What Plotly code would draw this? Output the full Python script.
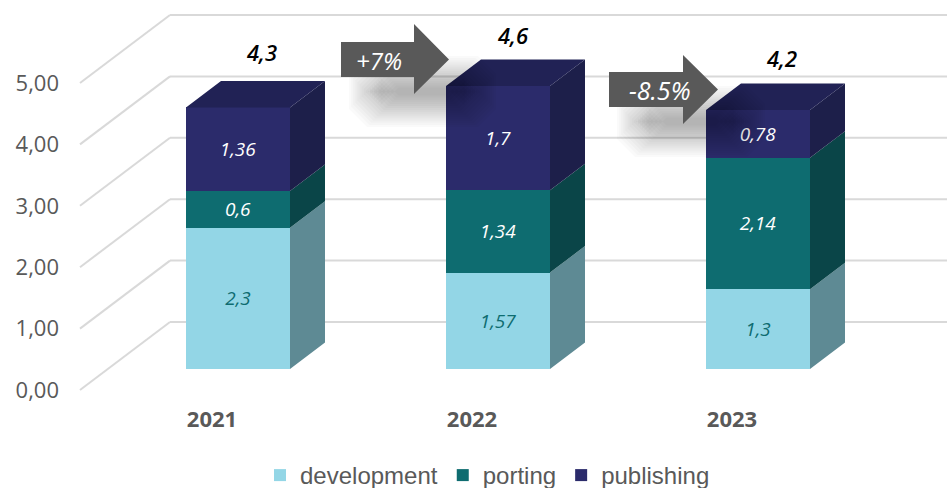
import plotly.graph_objects as go

years = [2021, 2022, 2023]
development = [2.3, 1.57, 1.3]
porting = [0.6, 1.34, 2.14]
publishing = [1.36, 1.7, 0.78]
total_labels = ["4,3", "4,6", "4,2"]
y_ticks = [0, 1, 2, 3, 4, 5]

series = [
    ("development", development, "#93D6E6", "#5E8A94", "#0E6C70"),
    ("porting", porting, "#0E6C70", "#0A4548", "#FFFFFF"),
    ("publishing", publishing, "#2B2B6B", "#1D1F4A", "#FFFFFF"),
]

# layout geometry (pixels of the 947x488 page)
W, H = 947, 488
M_L, M_B = 64, 88
PX_X = 260.0      # pixels per year
PX_Y = 61.4       # pixels per unit
X0_PX, Y0_PX = 238.0, 369.0   # pixel of year 2021 / value 0


def xd(px):
    return years[0] + (px - X0_PX) / PX_X


def yd(py):
    return (Y0_PX - py) / PX_Y


BAR_W = 104 / PX_X
DX, DY = 35 / PX_X, 26.5 / PX_Y

fig = go.Figure()

# stacked front faces
base = [0.0] * len(years)
bases = []
for name, vals, col, side, tcol in series:
    bases.append(list(base))
    fig.add_trace(go.Bar(
        x=years, y=vals, name=name, width=BAR_W, marker=dict(color=col, line=dict(width=0)),
        texttemplate="%{y:.2~f}", textposition="inside", insidetextanchor="middle",
        textangle=0, constraintext="none",
        textfont=dict(family="Open Sans", size=19, color=tcol, style="italic"),
        hoverinfo="x+y+name",
    ))
    base = [b + v for b, v in zip(base, vals)]
totals = base

# side faces
for (name, vals, col, side, tcol), b0 in zip(series, bases):
    xs, ys = [], []
    for yr, v, b in zip(years, vals, b0):
        xr = yr + BAR_W / 2
        xs += [xr, xr + DX, xr + DX, xr, xr, None]
        ys += [b, b + DY, b + v + DY, b + v, b, None]
    fig.add_trace(go.Scatter(x=xs, y=ys, mode="lines", fill="toself", fillcolor=side,
                             line=dict(width=0, color=side), showlegend=False, hoverinfo="skip"))

# top faces
xs, ys = [], []
for yr, t in zip(years, totals):
    xl, xr = yr - BAR_W / 2, yr + BAR_W / 2
    xs += [xl, xl + DX, xr + DX, xr, xl, None]
    ys += [t, t + DY, t + DY, t, t, None]
fig.add_trace(go.Scatter(x=xs, y=ys, mode="lines", fill="toself", fillcolor="#212255",
                         line=dict(width=0, color="#212255"), showlegend=False, hoverinfo="skip"))

# 3D floor/wall gridlines
shapes = []
back_dy = 47 / PX_Y
front_dy = -21 / PX_Y
grid = dict(color="#D9D9D9", width=2)
for v in y_ticks:
    shapes.append(dict(type="line", layer="below", xref="x", yref="y",
                       x0=xd(80), y0=v + front_dy, x1=xd(170), y1=v + back_dy, line=grid))
    shapes.append(dict(type="line", layer="below", xref="x", yref="y",
                       x0=xd(170), y0=v + back_dy, x1=xd(W), y1=v + back_dy, line=grid))


def arrow_pts(left, base_x, tip, body_top, body_bot, head_top, head_bot):
    mid = (body_top + body_bot) / 2
    return [(left, body_top), (base_x, body_top), (base_x, head_top), (tip, mid),
            (base_x, head_bot), (base_x, body_bot), (left, body_bot)]


def path(pts):
    return "M " + " L ".join(f"{xd(x):.5f},{yd(y):.5f}" for x, y in pts) + " Z"


def octagon(x0, y0, x1, y1, cut):
    return [(x0 + cut, y0), (x1 - cut, y0), (x1, y0 + cut), (x1, y1 - cut),
            (x1 - cut, y1), (x0 + cut, y1), (x0, y1 - cut), (x0, y0 + cut)]


arrows = [
    arrow_pts(341, 414, 449, 42, 77, 24, 94),
    arrow_pts(609, 683, 718, 72, 107, 55, 124),
]
arrow_text = [("+7%", 379, 60, 24), ("-8.5%", 660, 90, 25)]

# soft drop shadow: stacked translucent shapes, darkest at the centre
for pts in arrows:
    left, tip = pts[0][0], pts[3][0]
    top, bot = pts[0][1], pts[-1][1]
    for i in range(16):
        inset = i * 2.1
        sh = octagon(left + 8 + inset, top + 14 + inset, tip + 47 - inset, bot + 50 - inset, 18)
        shapes.append(dict(type="path", layer="above", xref="x", yref="y", path=path(sh),
                           fillcolor="rgba(0,0,0,0.019)", line=dict(width=0)))
for pts in arrows:
    shapes.append(dict(type="path", layer="above", xref="x", yref="y", path=path(pts),
                       fillcolor="#595959", line=dict(width=0)))

label_dx = [23, 15, 23]
label_dy = [29, 24, 25]
annotations = []
for yr, t, lab, ldx, ldy in zip(years, totals, total_labels, label_dx, label_dy):
    annotations.append(dict(x=yr + ldx / PX_X, y=t + DY, text=lab, xref="x", yref="y", showarrow=False,
                            yanchor="middle", yshift=ldy,
                            font=dict(family="Open Sans", size=22, color="#000000", style="italic", weight=600)))
for txt, px, py, size in arrow_text:
    annotations.append(dict(x=xd(px), y=yd(py), text=txt, xref="x", yref="y", showarrow=False,
                            font=dict(family="Open Sans", size=size, color="#FFFFFF", style="italic")))

fig.update_layout(
    width=W, height=H,
    margin=dict(l=M_L, r=0, t=0, b=M_B, pad=0),
    paper_bgcolor="#FFFFFF", plot_bgcolor="#FFFFFF",
    barmode="stack", separators=", ",
    shapes=shapes, annotations=annotations,
    xaxis=dict(range=[xd(M_L), xd(W)], tickvals=years, ticktext=[str(y) for y in years],
               showgrid=False, zeroline=False, showline=False, ticks="", automargin=False,
               ticklabelshift=-26, ticklabelstandoff=4,
               tickfont=dict(family="Open Sans", size=22, color="#595959", weight="bold")),
    yaxis=dict(range=[yd(H - M_B), yd(0)], tickvals=y_ticks, tickformat=".2f", showgrid=False, zeroline=False,
               showline=False, ticks="", ticklabelshift=21, ticklabelstandoff=4, automargin=False,
               tickfont=dict(family="Open Sans", size=22, color="#595959")),
    legend=dict(orientation="h", xref="container", yref="container",
                x=260 / W, xanchor="left", y=1 - 453 / H, yanchor="top",
                traceorder="normal",
                font=dict(family="Liberation Sans", size=24, color="#595959")),
    showlegend=True,
)

fig.write_html("out.html", config=dict(displayModeBar=False),
               post_script="document.body.style.margin='0';")
